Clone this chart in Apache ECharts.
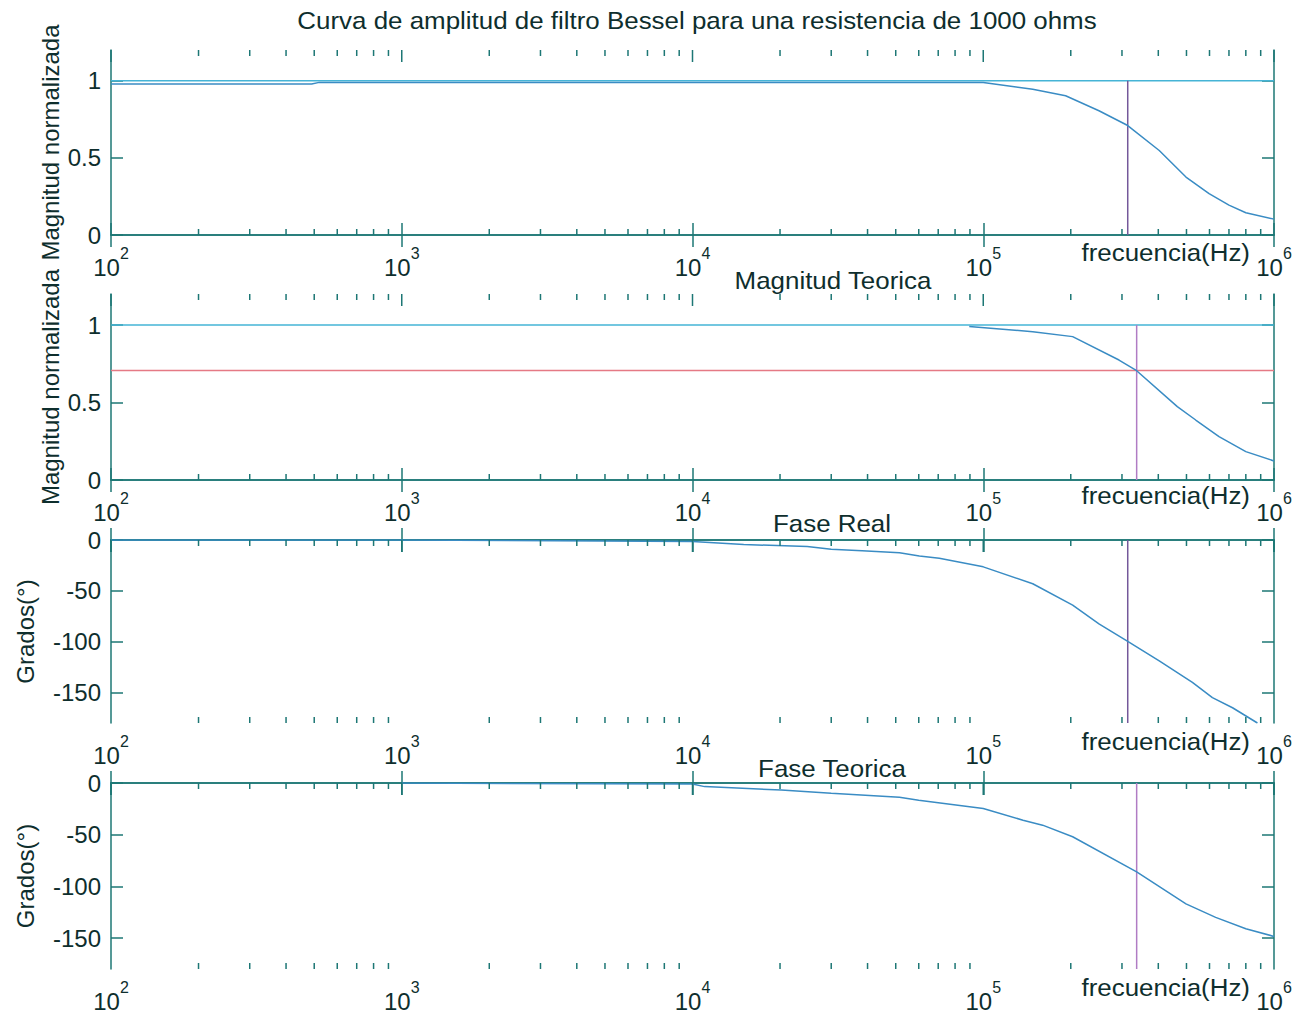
<!DOCTYPE html>
<html><head><meta charset="utf-8">
<script src="https://cdn.jsdelivr.net/npm/echarts@6/dist/echarts.min.js"></script>
<style>html,body{margin:0;padding:0;background:#fff}#c{width:1308px;height:1013px}</style>
</head><body><div id="c"></div>
<script>
// ---- data ----
const decadeTicks = [100, 1000, 10000, 100000, 1000000];
const minorTicks = [200,300,400,500,600,700,800,900,
  2000,3000,4000,5000,6000,7000,8000,9000,
  20000,30000,40000,50000,60000,70000,80000,90000,
  200000,300000,400000,500000,600000,700000,800000,900000];
const magTicks = [0, 0.5, 1];
const phaseTicks = [-150, -100, -50, 0];

const magReal = [[100,0.98],[490,0.98],[520,0.99],[1000,0.99],[10000,0.99],[50000,0.99],[100000,0.989],
  [148000,0.946],[192000,0.903],[250000,0.806],[314000,0.71],[403000,0.548],[498000,0.376],
  [598000,0.269],[700000,0.194],[800000,0.144],[1000000,0.103]];
const magTeo = [[89500,0.99],[148000,0.957],[203000,0.925],[293000,0.774],[337000,0.705],
  [465000,0.473],[538000,0.387],[647000,0.28],[800000,0.183],[1000000,0.123]];
const faseReal = [[100,0],[1000,0],[10000,-1.5],[15000,-4.4],[24800,-6.5],[30000,-9],[38300,-10.6],
  [51500,-12.5],[60300,-15.7],[70600,-18],[100000,-26.4],[148000,-43],[203000,-64],[250000,-82.5],
  [314000,-99.7],[403000,-119],[524000,-140],[614000,-155],[720000,-165],[877000,-180]];
const faseTeo = [[1000,0],[10000,-1],[11000,-3.5],[20200,-6.8],[30000,-10],[51500,-13.9],[60000,-16.8],
  [100000,-24.6],[137000,-36],[160000,-40.8],[203000,-52],[337000,-86],[498000,-117],
  [630000,-130],[800000,-141],[1000000,-148.5]];
const unityLine = [[100,1],[1000000,1]];
const halfPowerLine = [[100,0.707],[1000000,0.707]];
const cutReal = 314000;
const cutTeo = 337000;

const titleText = 'Curva de amplitud de filtro Bessel para una resistencia de 1000 ohms';
const subTitles = ['Magnitud Teorica', 'Fase Real', 'Fase Teorica'];
const xName = 'frecuencia(Hz)';
const yNames = ['Magnitud normalizada', 'Magnitud normalizada', 'Grados(°)', 'Grados(°)'];

// ---- styles ----
const AX = '#1d7775';
const TXT = '#0e2e2d';
const CURVE = '#3a8cc4';
const CYAN = '#45b4d6';
const PURPLE1 = '#74589a';
const PURPLE2 = '#b07cc4';
const RED = '#e57a85';
const FONT = 'Liberation Sans, Arial, sans-serif';
const FS = 24;

const grids = [
  {left:111, right:34, top:50, height:185},
  {left:111, right:34, top:294, height:186},
  {left:111, right:34, top:540, height:183},
  {left:111, right:34, top:783, height:186}
];
const yRanges = [[0,1.2],[0,1.2],[-180,0],[-180,0]];
const yTickSets = [magTicks, magTicks, phaseTicks, phaseTicks];

const xAxes = [], yAxes = [];
grids.forEach((g, i) => {
  xAxes.push({
    type:'log', logBase:10, min:100, max:1000000, splitNumber:4, gridIndex:i, position:'bottom',
    axisLine:{lineStyle:{color:AX, width:1.5}},
    axisTick:{inside:true, length:12, lineStyle:{color:AX, width:1.5}},
    splitLine:{show:false},
    axisLabel:{margin:10, color:TXT, fontFamily:FONT,
      formatter: v => '{a|10}{b|' + Math.round(Math.log10(v)) + '}',
      rich:{a:{fontSize:FS, color:TXT, fontFamily:FONT},
            b:{fontSize:16, color:TXT, fontFamily:FONT, padding:[0,0,28,0]}}}
  });
  xAxes.push({
    type:'log', logBase:10, min:100, max:1000000, splitNumber:4, gridIndex:i, position:'top',
    axisLine:{lineStyle:{color:AX, width:1.5}},
    axisTick:{inside:true, length:12, lineStyle:{color:AX, width:1.5}},
    splitLine:{show:false}, axisLabel:{show:false}
  });
  yAxes.push({
    type:'value', gridIndex:i, min:yRanges[i][0], max:yRanges[i][1], position:'left',
    name:yNames[i], nameLocation:'middle', nameGap: i < 2 ? 49 : 74, nameRotate:90,
    nameMoveOverlap:false,
    nameTextStyle:{fontSize:FS, color:TXT, fontFamily:FONT},
    axisLine:{show:true, lineStyle:{color:AX, width:1.5}},
    axisTick:{show:true, inside:true, length:12, customValues:yTickSets[i], lineStyle:{color:AX, width:1.5}},
    splitLine:{show:false},
    axisLabel:{customValues:yTickSets[i], fontSize:FS, color:TXT, fontFamily:FONT, margin:10}
  });
  yAxes.push({
    type:'value', gridIndex:i, min:yRanges[i][0], max:yRanges[i][1], position:'right',
    axisLine:{show:true, lineStyle:{color:AX, width:1.5}},
    axisTick:{show:true, inside:true, length:12, customValues:yTickSets[i], lineStyle:{color:AX, width:1.5}},
    splitLine:{show:false}, axisLabel:{show:false}
  });
});

function lineSeries(i, data, color, width, z) {
  return {type:'line', xAxisIndex:2*i, yAxisIndex:2*i, data:data, showSymbol:false, symbol:'none',
    lineStyle:{color:color, width:width}, z:z||3, silent:true, animation:false};
}
// tick marks along top/bottom edges, placed through the log x scale
function tickSeries(i, values, len, bothSides) {
  return {type:'custom', xAxisIndex:2*i, yAxisIndex:2*i, data:values.map(v => [v, 0]),
    silent:true, animation:false, clip:false, z:5,
    renderItem: (params, api) => {
      const cs = params.coordSys;
      const x = api.coord([api.value(0), 0])[0];
      const st = {stroke:AX, lineWidth:1.5};
      const kids = [{type:'line', shape:{x1:x, y1:cs.y, x2:x, y2:cs.y+len}, style:st}];
      if (bothSides) kids.push({type:'line', shape:{x1:x, y1:cs.y+cs.height, x2:x, y2:cs.y+cs.height-len}, style:st});
      return {type:'group', children:kids};
    }};
}

const series = [];
for (let i = 0; i < 4; i++) {
  series.push(tickSeries(i, minorTicks, 6, true));
  series.push(tickSeries(i, decadeTicks, 12, false));
}
// panel 1
series.push(lineSeries(0, unityLine, CYAN, 1.5, 2));
series.push(lineSeries(0, [[cutReal,0],[cutReal,1]], PURPLE1, 1.5, 2));
series.push(lineSeries(0, magReal, CURVE, 1.5, 3));
// panel 2
series.push(lineSeries(1, unityLine, CYAN, 1.5, 2));
series.push(lineSeries(1, halfPowerLine, RED, 1.5, 2));
series.push(lineSeries(1, [[cutTeo,0],[cutTeo,1]], PURPLE2, 1.5, 2));
series.push(lineSeries(1, magTeo, CURVE, 1.5, 3));
// panel 3
series.push(lineSeries(2, [[cutReal,0],[cutReal,-180]], PURPLE1, 1.5, 2));
series.push(lineSeries(2, faseReal, CURVE, 1.5, 3));
// panel 4
series.push(lineSeries(3, [[cutTeo,0],[cutTeo,-180]], PURPLE2, 1.5, 2));
series.push(lineSeries(3, faseTeo, CURVE, 1.5, 3));

function txt(text, x, y, align) {
  return {type:'text', x:x, y:y, scaleX:1.08, silent:true,
    style:{text:text, fill:TXT, font: FS + 'px ' + FONT, textAlign:align, textVerticalAlign:'middle'}};
}
const graphics = [
  txt(titleText, 697, 20, 'center'),
  txt(subTitles[0], 833, 280, 'center'),
  txt(subTitles[1], 832, 523, 'center'),
  txt(subTitles[2], 832, 768, 'center'),
  txt(xName, 1250, 252, 'right'),
  txt(xName, 1250, 495, 'right'),
  txt(xName, 1250, 741, 'right'),
  txt(xName, 1250, 987, 'right')
];

const chart = echarts.init(document.getElementById('c'), null, {renderer:'svg'});
chart.setOption({
  animation:false,
  backgroundColor:'#ffffff',
  grid:grids,
  xAxis:xAxes,
  yAxis:yAxes,
  series:series,
  graphic:graphics
});
</script>
</body></html>
